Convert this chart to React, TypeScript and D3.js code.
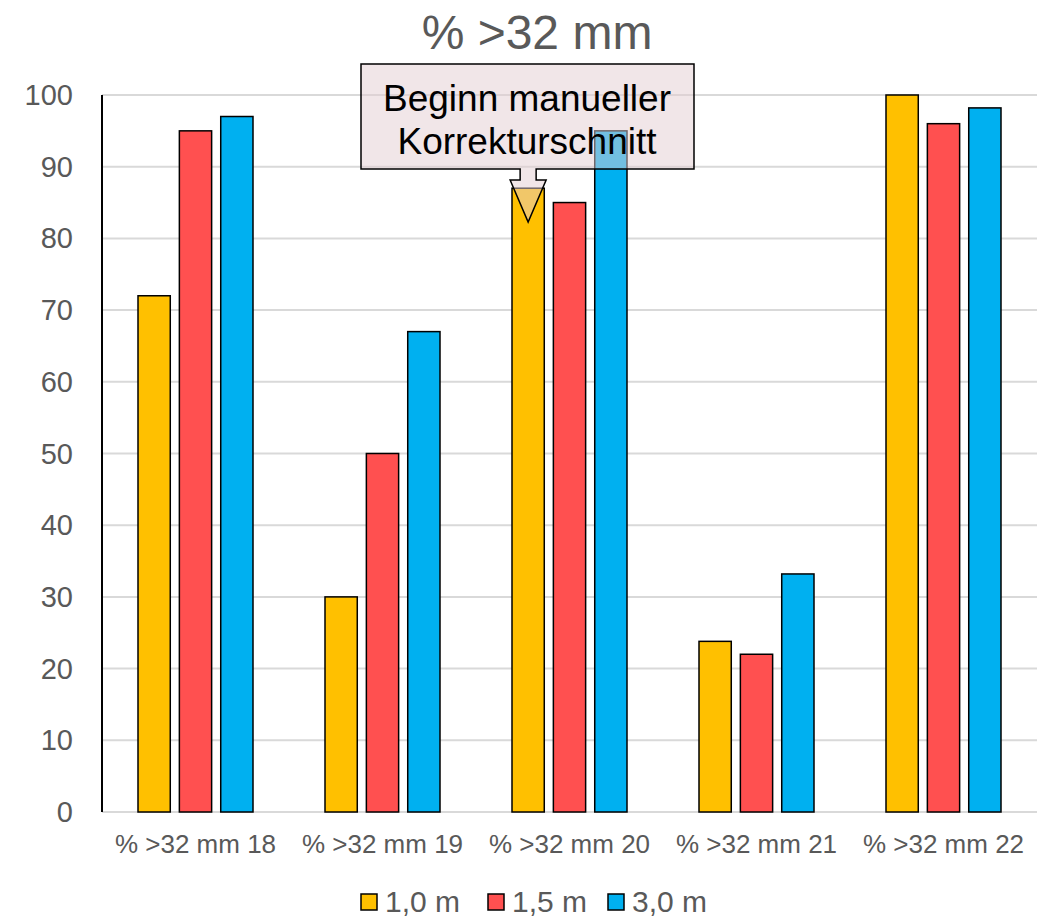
import React from 'react';
import * as d3 from 'd3';

// categories and series
const categories = ['% >32 mm 18', '% >32 mm 19', '% >32 mm 20', '% >32 mm 21', '% >32 mm 22'];
const seriesNames = ['1,0 m', '1,5 m', '3,0 m'];
const seriesColors = ['#ffc000', '#ff5050', '#00b0f0'];
const values10 = [72, 30, 87, 23.8, 100];
const values15 = [95, 50, 85, 22, 96];
const values30 = [97, 67, 95, 33.2, 98.2];
const yTicks = [0, 10, 20, 30, 40, 50, 60, 70, 80, 90, 100];

const W = 1037;
const H = 918;
const margin = { left: 102, right: 0, top: 95, bottom: 106 };
const font = '"Liberation Sans", Arial, sans-serif';
const grey = '#595959';

const App = () => {
  const series = [values10, values15, values30];

  const x = d3.scaleBand().domain(categories).range([margin.left, W - margin.right]).paddingInner(0).paddingOuter(0);
  const inner = d3.scaleBand().domain(seriesNames).range([36, x.bandwidth() - 36]).paddingInner(0.22);
  const y = d3.scaleLinear().domain([0, 100]).range([H - margin.bottom, margin.top]);

  // callout sits over the 20 group, arrow pointing at the yellow bar
  const arrowX = x(categories[2])! + inner(seriesNames[0])! + inner.bandwidth() / 2;

  return (
    <svg width={W} height={H} style={{ position: 'absolute', left: 0, top: 0, background: '#fff' }}>
      <text x={537} y={49} textAnchor="middle" fontFamily={font} fontSize={48} fill={grey}>% &gt;32 mm</text>

      {/* grid */}
      {yTicks.map(t => (
        <g key={t}>
          {t > 0 && <line x1={margin.left} x2={W - margin.right} y1={y(t)} y2={y(t)} stroke="#d9d9d9" strokeWidth={2} />}
          <text x={73} y={y(t) + 10} textAnchor="end" fontFamily={font} fontSize={29} fill={grey}>{t}</text>
        </g>
      ))}
      <line x1={margin.left} x2={W - margin.right} y1={y(0)} y2={y(0)} stroke="#d9d9d9" strokeWidth={2} />

      {/* bars */}
      {categories.map((c, i) => (
        <g key={c} transform={`translate(${x(c)},0)`}>
          {series.map((s, j) => (
            <rect key={j}
              x={inner(seriesNames[j])}
              y={y(s[i])}
              width={inner.bandwidth()}
              height={y(0) - y(s[i])}
              fill={seriesColors[j]}
              stroke="#000" strokeWidth={1.5} />
          ))}
          <text x={x.bandwidth() / 2} y={853} textAnchor="middle" fontFamily={font} fontSize={26} fill={grey}>{c}</text>
        </g>
      ))}

      <line x1={margin.left} x2={margin.left} y1={y(100)} y2={y(0)} stroke="#000" strokeWidth={2} />

      {/* callout */}
      <g>
        <path
          d={`M361,64 H694 V169 H${arrowX + 8} V180 H${arrowX + 18} L${arrowX},222 L${arrowX - 18},180 H${arrowX - 8} V169 H361 Z`}
          fill="rgb(228,205,210)" fillOpacity={0.5} stroke="#000" strokeWidth={1.5} />
        <text x={527} y={111} textAnchor="middle" fontFamily={font} fontSize={37} fill="#000">Beginn manueller</text>
        <text x={527} y={154} textAnchor="middle" fontFamily={font} fontSize={37} fill="#000">Korrekturschnitt</text>
      </g>

      {/* legend */}
      {seriesNames.map((n, j) => {
        const lx = [361, 488, 608][j];
        return (
          <g key={n}>
            <rect x={lx} y={894} width={16} height={16} fill={seriesColors[j]} stroke="#000" strokeWidth={1.5} />
            <text x={lx + 24} y={912} fontFamily={font} fontSize={30} fill={grey}>{n}</text>
          </g>
        );
      })}
    </svg>
  );
};

export default App;
